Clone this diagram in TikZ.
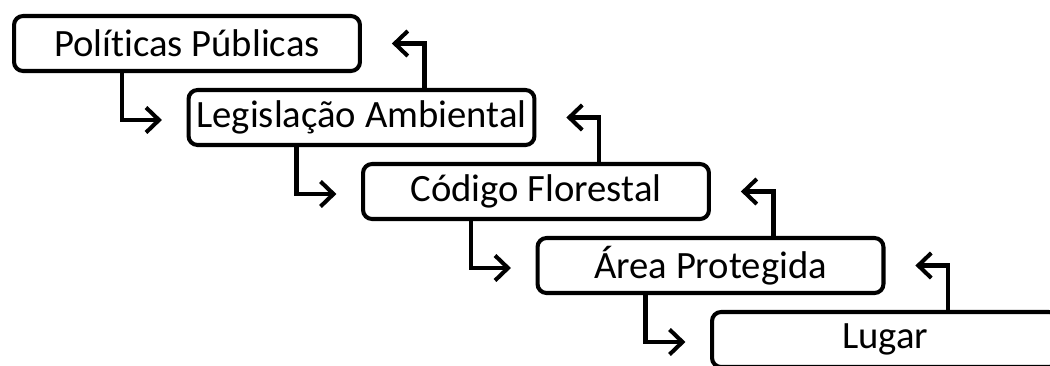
\documentclass[tikz,border=0pt]{standalone}
\usepackage{fontspec}
\setmainfont[Ligatures=NoCommon]{Carlito}
\usetikzlibrary{arrows.meta}
\tikzset{
  etapa/.style={draw, line width=2.3pt, rounded corners=0.18cm, minimum width=6.92cm,
    minimum height=1.1cm, font=\fontsize{22}{26}\selectfont, inner sep=0pt},
  seta/.style={line width=2.3pt, -{Straight Barb[length=0.26cm, width=0.5cm, line width=2.3pt]}}
}
\begin{document}
\begin{tikzpicture}[x=0.02cm, y=-0.02cm]
      \clip (0, 0) rectangle (1050, 365);
      \foreach \i/\t in {1/Políticas Públicas, 2/Legislação Ambiental, 3/Código Florestal,
                         4/Área Protegida, 5/Lugar}
        \node[etapa] (b\i) at ({187 + 174.5 * (\i - 1)}, {43.5 + 74 * (\i - 1)}) {\t};

      \foreach \i/\j in {1/2, 2/3, 3/4, 4/5} {
        \draw[seta, shorten >=14] ([shift={(-65, 0)}]b\i.south) |- ([yshift=-0.05cm]b\j.west);
        \draw[seta, shorten >=17] ([shift={(63, 0)}]b\j.north) |- (b\i.east);
      }
    \end{tikzpicture}
\end{document}
